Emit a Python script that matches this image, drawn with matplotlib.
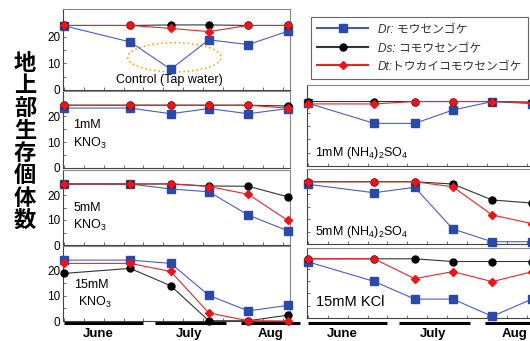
import matplotlib
matplotlib.use("Agg")
import matplotlib.pyplot as plt
from matplotlib.lines import Line2D
from matplotlib.patches import Ellipse
from matplotlib.font_manager import FontProperties
import matplotlib.transforms as mtransforms

plt.rcParams['font.family'] = ['Liberation Sans', 'Noto Sans CJK JP', 'DejaVu Sans']
plt.rcParams['mathtext.fontset'] = 'custom'
plt.rcParams['mathtext.rm'] = 'Liberation Sans'
plt.rcParams['mathtext.it'] = 'Liberation Sans:italic'

# sampling days (counted from 1 June)
days = [0, 27, 43.5, 59, 75, 91]

control_dr = [24.2, 18.1, 7.8, 18.9, 17.1, 22.1]
control_ds = [24.3, 24.3, 24.5, 24.5, 24.3, 24.3]
control_dt = [24.3, 24.3, 23.2, 22.0, 24.3, 24.3]

kno3_1_dr = [23.2, 23.2, 21.0, 23.0, 21.0, 23.0]
kno3_1_ds = [24.3, 24.3, 24.3, 24.3, 24.3, 24.0]
kno3_1_dt = [24.3, 24.3, 24.3, 24.3, 24.3, 23.2]

kno3_5_dr = [24.4, 24.4, 22.4, 21.3, 12.0, 5.7]
kno3_5_ds = [24.4, 24.4, 24.4, 23.6, 23.5, 19.3]
kno3_5_dt = [24.4, 24.4, 24.5, 23.4, 20.3, 9.9]

kno3_15_dr = [24.2, 24.2, 22.9, 10.2, 4.0, 6.2]
kno3_15_ds = [18.9, 20.9, 14.0, 0.1, 0.1, 2.3]
kno3_15_dt = [22.9, 22.9, 19.7, 3.2, 0.1, 0.0]

nh4_1_dr = [23.6, 16.0, 16.0, 21.0, 24.2, 23.4]
nh4_1_ds = [24.2, 24.2, 24.2, 24.2, 24.2, 24.0]
nh4_1_dt = [23.3, 23.3, 24.2, 24.2, 24.2, 23.8]

nh4_5_dr = [23.9, 20.5, 22.7, 6.0, 0.9, 0.9]
nh4_5_ds = [24.9, 24.9, 24.9, 24.0, 17.6, 16.4]
nh4_5_dt = [24.9, 24.9, 24.9, 22.9, 11.6, 8.2]

kcl_15_dr = [22.9, 14.9, 7.7, 7.7, 0.7, 7.6]
kcl_15_ds = [24.1, 24.1, 24.1, 23.0, 23.0, 23.0]
kcl_15_dt = [24.1, 24.1, 16.0, 18.9, 14.8, 18.8]

months = ['June', 'July', 'Aug']
month_spans = [(0, 32.4), (37, 66), (72, 96)]
month_mid = [14, 51, 84]

species = ['Dr: モウセンゴケ', 'Ds: コモウセンゴケ', 'Dt:トウカイコモウセンゴケ']

W, H = 530, 341
fig = plt.figure(figsize=(W / 100, H / 100), dpi=100)


def px_axes(x0, y0, x1, y1):
    return fig.add_axes([x0 / W, 1 - y1 / H, (x1 - x0) / W, (y1 - y0) / H])


blue = dict(color='#4a5cc0', lw=0.8, marker='s', ms=5.5, mfc='#2b4aa8', mec='#2b4aa8')
black = dict(color='#333333', lw=0.8, marker='o', ms=5, mfc='black', mec='black')
red = dict(color='#e0282c', lw=0.8, marker='D', ms=4.3, mfc='#e8161b', mec='#e8161b')


def panel(box, top, dr, ds, dt, left_col):
    ax = px_axes(*box)
    ax.plot(days, dr, **blue, clip_on=False, zorder=3)
    ax.plot(days, ds, **black, clip_on=False, zorder=4)
    ax.plot(days, dt, **red, clip_on=False, zorder=5)
    ax.set_xlim(-0.3, 92)
    ax.set_ylim(0, top)
    ax.set_xticks([d * 8.1 for d in range(12)])
    ax.set_xticklabels([])
    ax.set_yticks([0, 5, 10, 15, 20, 25])
    if left_col:
        ax.set_yticklabels(['0', '', '10', '', '20', ''])
    else:
        ax.set_yticklabels([])
    ax.tick_params(direction='in', length=2.5, width=0.6, labelsize=8.5, pad=2,
                   color='#555555')
    for s in ax.spines.values():
        s.set_color('#888888')
        s.set_linewidth(0.8)
    ax.spines['left'].set_color('#444444')
    ax.spines['bottom'].set_color('#444444')
    return ax


p1 = panel((63, 9, 290, 90), 30.5, control_dr, control_ds, control_dt, True)
p2 = panel((63, 91, 290, 168), 29.8, kno3_1_dr, kno3_1_ds, kno3_1_dt, True)
p3 = panel((63, 170, 290, 245), 30, kno3_5_dr, kno3_5_ds, kno3_5_dt, True)
p4 = panel((63, 246, 290, 321), 29.8, kno3_15_dr, kno3_15_ds, kno3_15_dt, True)
r1 = panel((307, 85, 534, 166), 30.4, nh4_1_dr, nh4_1_ds, nh4_1_dt, False)
r2 = panel((307, 169, 534, 244), 30, nh4_5_dr, nh4_5_ds, nh4_5_dt, False)
r3 = panel((307, 248, 534, 318), 28.5, kcl_15_dr, kcl_15_ds, kcl_15_dt, False)

# panel captions
p1.text(0.47, 0.09, 'Control (Tap water)', transform=p1.transAxes, ha='center', fontsize=9)
p1.add_patch(Ellipse((45, 12.3), 38, 11, fill=False, ec='#f0a820', lw=1.2, ls=':'))
p2.text(0.045, 0.52, '1mM', transform=p2.transAxes, fontsize=9)
p2.text(0.045, 0.28, 'KNO$_3$', transform=p2.transAxes, fontsize=9)
p3.text(0.045, 0.45, '5mM', transform=p3.transAxes, fontsize=9)
p3.text(0.045, 0.22, 'KNO$_3$', transform=p3.transAxes, fontsize=9)
p4.text(0.05, 0.44, '15mM', transform=p4.transAxes, fontsize=9)
p4.text(0.065, 0.2, 'KNO$_3$', transform=p4.transAxes, fontsize=9)
r1.text(0.035, 0.12, '1mM (NH$_4$)$_2$SO$_4$', transform=r1.transAxes, fontsize=9)
r2.text(0.035, 0.12, '5mM (NH$_4$)$_2$SO$_4$', transform=r2.transAxes, fontsize=9)
r3.text(0.04, 0.17, '15mM KCl', transform=r3.transAxes, fontsize=10.5)

# month bars and labels
for ax, bar_y, lab_y in [(p4, -0.023, -0.175), (r3, -0.067, -0.235)]:
    tr = mtransforms.blended_transform_factory(ax.transData, ax.transAxes)
    for (a, b), name, mid in zip(month_spans, months, month_mid):
        ax.plot([a, b], [bar_y, bar_y], color='black', lw=2.2, transform=tr,
                clip_on=False, solid_capstyle='butt')
        ax.text(mid, lab_y, name, transform=tr, ha='center', va='center',
                fontsize=9.5, fontweight='bold')

# y label
fig.text(25 / W, 1 - 142 / H, '\n'.join('地上部生存個体数'), ha='center', va='center',
         fontsize=16, fontweight='bold', family='Noto Sans CJK JP', linespacing=0.97)

# legend
handles = [Line2D([], [], **blue), Line2D([], [], **black), Line2D([], [], **red)]
for h in handles:
    h.set_linewidth(1.5)
leg = fig.legend(handles, species, loc='upper left',
                 bbox_to_anchor=(311 / W, 1 - 77 / H, 217 / W, 60 / H), mode='expand',
                 prop=FontProperties(family=['Liberation Sans', 'Noto Sans CJK JP'],
                                     style='italic', size=8.5),
                 handlelength=4.3, handletextpad=0.8, labelspacing=0.55, borderpad=0.55,
                 borderaxespad=0, fancybox=False, framealpha=1, edgecolor='#666666')
leg.get_frame().set_linewidth(0.8)
for t in leg.get_texts():
    t.set_color('#333333')

fig.savefig('out.png', dpi=100)
